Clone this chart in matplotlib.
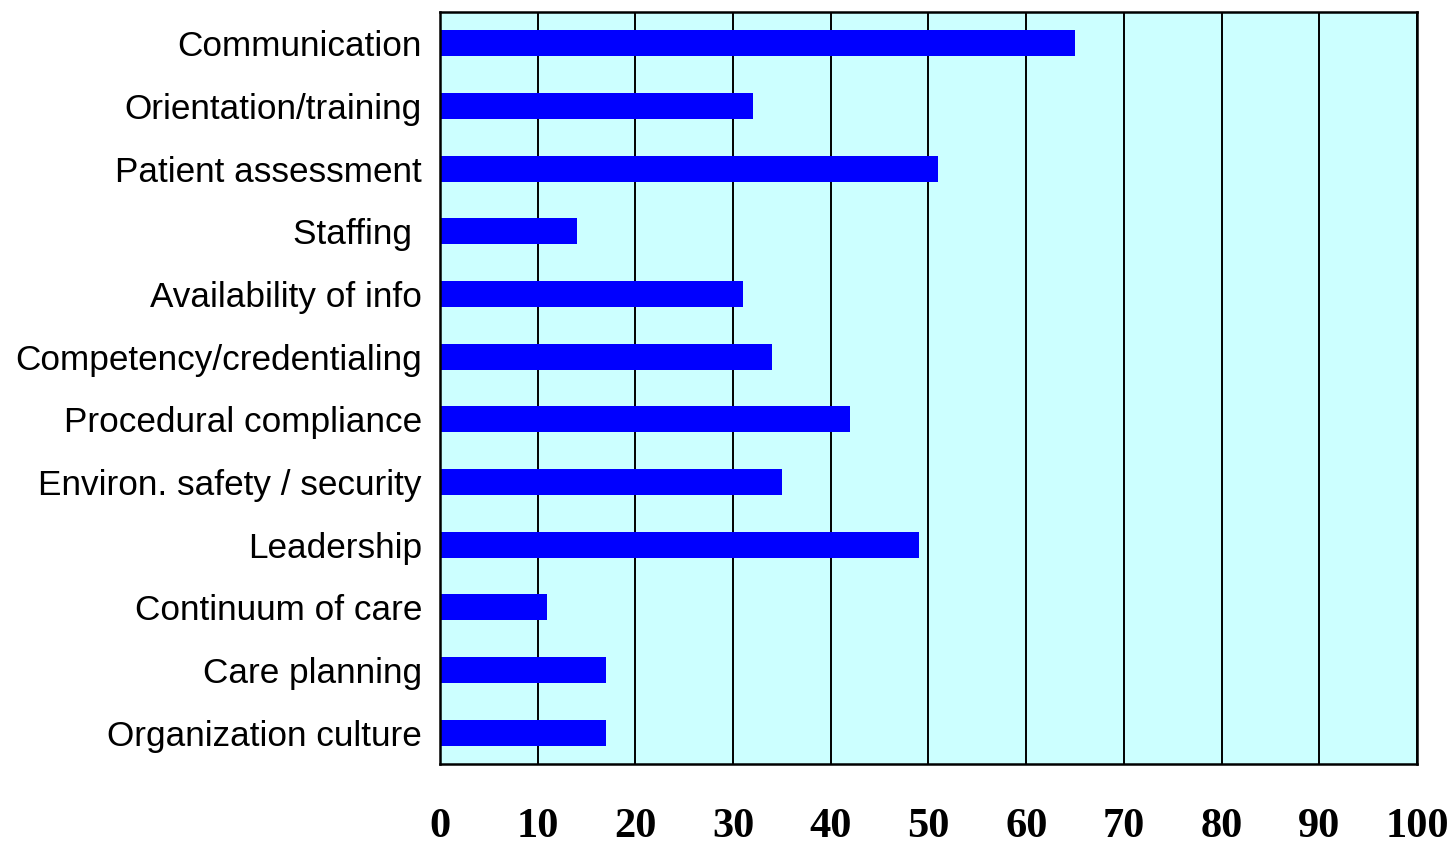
import numpy as np
import matplotlib.pyplot as plt

categories = ['Communication', 'Orientation/training', 'Patient assessment', 'Staffing ',
              'Availability of info', 'Competency/credentialing', 'Procedural compliance',
              'Environ. safety / security', 'Leadership', 'Continuum of care',
              'Care planning', 'Organization culture']
values = [65, 32, 51, 14, 31, 34, 42, 35, 49, 11, 17, 17]
xticks = [0, 10, 20, 30, 40, 50, 60, 70, 80, 90, 100]

fig = plt.figure(figsize=(14.55, 8.44), dpi=100)
ax = fig.add_axes([440 / 1455, 80 / 844, 977 / 1455, 752 / 844])
ax.set_facecolor('#CCFFFF')

y = np.arange(len(categories))
ax.barh(y, values, height=0.42, color='#0000FF', zorder=3)
ax.set_ylim(len(categories) - 0.5, -0.5)
ax.set_xlim(0, 100)

ax.set_xticks(xticks)
ax.set_xticklabels([str(t) for t in xticks], family='Liberation Serif',
                   fontweight='bold', fontsize=30.5)
ax.set_yticks(y)
ax.set_yticklabels(categories, family='Liberation Sans', fontsize=25.3)
ax.tick_params(axis='x', length=0, pad=32)
ax.tick_params(axis='y', length=0, pad=13)

ax.grid(axis='x', color='black', linewidth=1.4, zorder=1)
ax.set_axisbelow(True)
for s in ax.spines.values():
    s.set_linewidth(1.8)
    s.set_zorder(4)

fig.savefig('out.png', dpi=100)
